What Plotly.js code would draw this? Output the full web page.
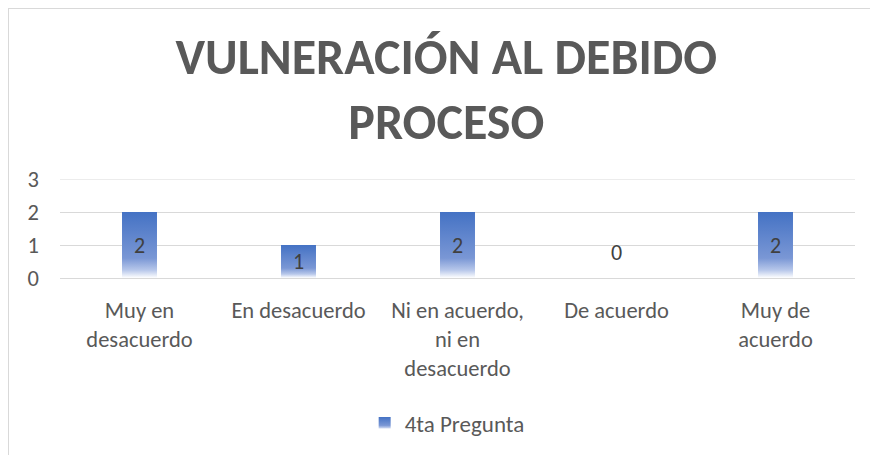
<!DOCTYPE html>
<html>
<head>
<meta charset="utf-8">
<script src="https://cdn.plot.ly/plotly-3.0.1.min.js"></script>
<style>
  html, body { margin: 0; padding: 0; background: #fff; }
  #wrap { position: relative; width: 870px; height: 455px; overflow: hidden; }
  #chart { position: absolute; left: 0; top: 0; width: 870px; height: 455px; }
  #frame { position: absolute; left: 8px; top: 8px; width: 900px; height: 500px;
           border-left: 1px solid #d9d9d9; border-top: 1px solid #d9d9d9;
           pointer-events: none; z-index: 5; }
</style>
</head>
<body>
<div id="wrap">
  <div id="chart"></div>
  <div id="frame"></div>
</div>
<script>
const categories = [
  "Muy en<br>desacuerdo",
  "En desacuerdo",
  "Ni en acuerdo,<br>ni en<br>desacuerdo",
  "De acuerdo",
  "Muy de<br>acuerdo"
];
const values = [2, 1, 2, 0, 2];
const seriesName = "4ta Pregunta";
const chartTitle = "VULNERACIÓN AL DEBIDO<br>PROCESO";
const yTicks = [0, 1, 2, 3];

const font = "Carlito, Calibri, Lato, 'Open Sans', sans-serif";

const trace = {
  type: "bar",
  x: categories,
  y: values,
  name: seriesName,
  width: 0.22,
  marker: { color: "#4472C4", line: { width: 0 } },
  text: values.map(String),
  textposition: values.map(v => v === 0 ? "outside" : "inside"),
  insidetextanchor: "middle",
  textfont: { family: font, size: 22, color: "#404040" },
  outsidetextfont: { family: font, size: 22, color: "#404040" },
  cliponaxis: false,
  showlegend: true,
  hoverinfo: "none"
};

const yMax = Math.max(...yTicks);

const layout = {
  width: 870,
  height: 455,
  margin: { l: 60, r: 15, t: 179, b: 176 },
  paper_bgcolor: "#ffffff",
  plot_bgcolor: "#ffffff",
  font: { family: font, color: "#595959", size: 22 },
  title: {
    text: chartTitle,
    font: { family: font, size: 50, color: "#595959", weight: "bold" },
    x: 0.513, xanchor: "center",
    y: 0.837, yanchor: "top"
  },
  xaxis: {
    type: "category",
    showgrid: false,
    showline: false,
    zeroline: false,
    ticks: "",
    tickfont: { family: font, size: 22.5, color: "#595959" },
    ticklabelstandoff: 16
  },
  yaxis: {
    range: [0, yMax],
    tickvals: yTicks,
    showgrid: true,
    gridcolor: "#d9d9d9",
    gridwidth: 1,
    zeroline: true,
    zerolinecolor: "#d9d9d9",
    zerolinewidth: 1,
    showline: false,
    ticks: "",
    tickfont: { family: font, size: 22.5, color: "#595959" },
    ticklabelstandoff: 20
  },
  shapes: [{
    type: "line", xref: "paper", yref: "y",
    x0: 0, x1: 1, y0: yMax, y1: yMax,
    line: { color: "#d9d9d9", width: 1 },
    layer: "below"
  }],
  showlegend: true,
  legend: {
    orientation: "h",
    x: 0.487, xanchor: "center",
    y: -1.44, yanchor: "middle",
    font: { family: font, size: 23, color: "#595959" },
    itemwidth: 30
  },
  bargap: 0.5
};

Plotly.newPlot("chart", [trace], layout, { displayModeBar: false, staticPlot: true }).then(gd => {
  const svg = gd.querySelector("svg.main-svg");
  const ns = "http://www.w3.org/2000/svg";
  let defs = svg.querySelector("defs");
  if (!defs) { defs = document.createElementNS(ns, "defs"); svg.insertBefore(defs, svg.firstChild); }
  const g = document.createElementNS(ns, "linearGradient");
  g.setAttribute("id", "bargrad");
  g.setAttribute("x1", "0"); g.setAttribute("y1", "0");
  g.setAttribute("x2", "0"); g.setAttribute("y2", "1");
  [["0", "#4472C4"], ["0.7", "#7a97d5"], ["0.88", "#b7c7ea"], ["1", "#ffffff"]].forEach(([o, c]) => {
    const s = document.createElementNS(ns, "stop");
    s.setAttribute("offset", o); s.setAttribute("stop-color", c);
    g.appendChild(s);
  });
  defs.appendChild(g);
  gd.querySelectorAll(".bars .point path").forEach(p => { p.style.fill = "url(#bargrad)"; });
  gd.querySelectorAll(".legend .legendpoints path").forEach(p => { p.style.fill = "url(#bargrad)"; p.style.stroke = "none"; });
  // lift the label of zero-height bars a little, like the original
  gd.querySelectorAll(".bars .point").forEach((pt, i) => {
    if (values[i] === 0) {
      const t = pt.querySelector("text");
      if (t) {
        const tr = t.getAttribute("transform") || "";
        t.setAttribute("transform", "translate(0,-9) " + tr);
      }
    }
  });
});
</script>
</body>
</html>
